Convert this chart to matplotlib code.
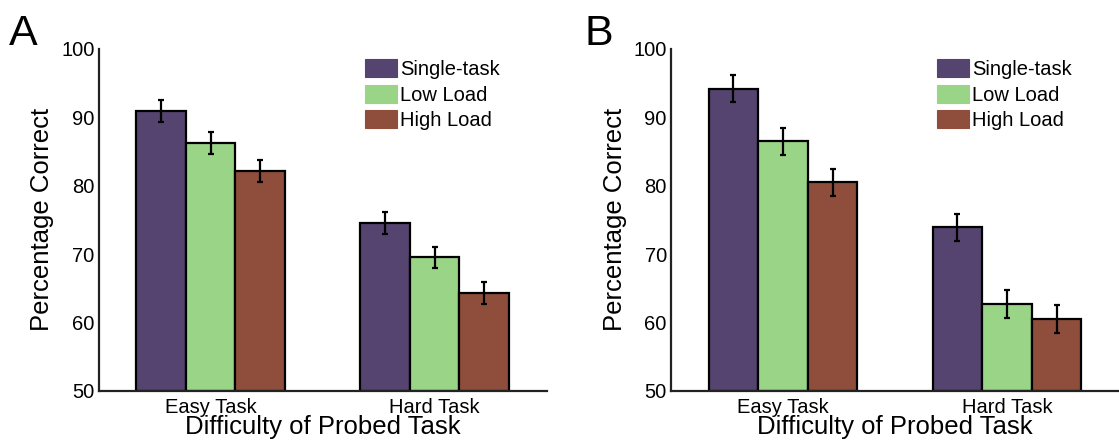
import matplotlib
matplotlib.use("Agg")
import matplotlib.pyplot as plt
from matplotlib.patches import Patch
import numpy as np

plt.rcParams['font.family'] = ['Liberation Sans', 'DejaVu Sans']

categories = ["Easy Task", "Hard Task"]
conditions = ["Single-task", "Low Load", "High Load"]
colors = ["#55446F", "#9AD487", "#8F4E3B"]

# Panel A values (percentage correct) and error bars
a_single = [90.9, 74.6]
a_low = [86.3, 69.5]
a_high = [82.1, 64.3]
a_err_single = [1.6, 1.6]
a_err_low = [1.6, 1.6]
a_err_high = [1.6, 1.6]

# Panel B
b_single = [94.2, 73.9]
b_low = [86.5, 62.7]
b_high = [80.5, 60.5]
b_err_single = [2.0, 2.0]
b_err_low = [2.0, 2.0]
b_err_high = [2.0, 2.0]

yticks = [50, 60, 70, 80, 90, 100]

fig = plt.figure(figsize=(11.19, 4.43), dpi=100)
W, H = 1119, 443

def make_axes(left_px):
    return fig.add_axes([left_px / W, 1 - 390.7 / H, 448 / W, (390.7 - 49) / H])

def draw(ax, series, errs, letter, letter_x):
    x = np.arange(1, len(categories) + 1)
    width = 0.221
    offsets = [-width, 0, width]
    for vals, err, off, col in zip(series, errs, offsets, colors):
        ax.bar(x + off, np.array(vals) - 50, width=width, bottom=50, color=col,
               edgecolor="black", linewidth=1.6, zorder=2)
        ax.errorbar(x + off, vals, yerr=err, fmt="none", ecolor="black",
                    elinewidth=1.6, capsize=2.0, capthick=1.6, zorder=3)
    ax.set_xlim(0.5, 2.5)
    ax.set_ylim(50, 100)
    ax.set_yticks(yticks)
    ax.set_xticks(x)
    ax.set_xticklabels(categories)
    ax.tick_params(axis="both", length=0, labelsize=14.5, colors="black")
    ax.tick_params(axis="y", pad=3)
    ax.tick_params(axis="x", pad=5)
    for s in ["top", "right"]:
        ax.spines[s].set_visible(False)
    for s in ["left", "bottom"]:
        ax.spines[s].set_linewidth(1.6)
        ax.spines[s].set_color("#222222")
    ax.set_ylabel("Percentage Correct", fontsize=18.5, labelpad=5)
    ax.set_xlabel("Difficulty of Probed Task", fontsize=18.5, labelpad=-1)
    handles = [Patch(facecolor=c, edgecolor=c, linewidth=0.8) for c in colors]
    ax.legend(handles, conditions, loc="upper left", bbox_to_anchor=(0.594, 0.97),
              frameon=False, fontsize=14.5, handlelength=1.6, handleheight=1.0,
              labelspacing=0.27, handletextpad=0.15, borderpad=0, borderaxespad=0)
    fig.text(letter_x / W, 1 - 45 / H, letter, fontsize=31, ha="left", va="baseline")

axA = make_axes(98.7)
draw(axA, [a_single, a_low, a_high], [a_err_single, a_err_low, a_err_high], "A", 9)
axB = make_axes(671)
draw(axB, [b_single, b_low, b_high], [b_err_single, b_err_low, b_err_high], "B", 584)

fig.savefig("out.png", dpi=100)
